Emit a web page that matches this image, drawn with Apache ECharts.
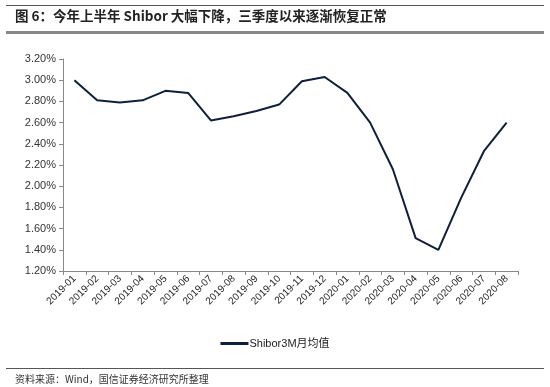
<!DOCTYPE html>
<html><head><meta charset="utf-8">
<script src="https://cdn.jsdelivr.net/npm/echarts@6/dist/echarts.min.js"></script>
<style>html,body{margin:0;padding:0;background:#fff;}#c{width:550px;height:387px;}</style>
</head><body><div id="c"></div>
<script>
const categories = ['2019-01','2019-02','2019-03','2019-04','2019-05','2019-06','2019-07','2019-08','2019-09','2019-10','2019-11','2019-12','2020-01','2020-02','2020-03','2020-04','2020-05','2020-06','2020-07','2020-08'];
const shibor3m = [3.00, 2.81, 2.79, 2.81, 2.90, 2.88, 2.62, 2.66, 2.71, 2.77, 2.99, 3.03, 2.88, 2.60, 2.16, 1.51, 1.40, 1.89, 2.33, 2.60];
const seriesName = 'Shibor3M月均值';
const titleText = '图 6：今年上半年 Shibor 大幅下降，三季度以来逐渐恢复正常';
const sourceText = '资料来源：Wind，国信证券经济研究所整理';

const chart = echarts.init(document.getElementById('c'));
const font = 'Arial, "Liberation Sans", "Noto Sans CJK SC", sans-serif';
chart.setOption({
  animation: false,
  backgroundColor: '#fff',
  grid: {left: 63, right: 32, top: 59, bottom: 116},
  title: [
    {text: titleText, left: 15, top: 9, padding: 0,
     textStyle: {fontSize: 13.5, fontWeight: 'bold', color: '#222', fontFamily: '"Noto Sans CJK SC", sans-serif'}},
    {text: sourceText, left: 15, top: 374, padding: 0,
     textStyle: {fontSize: 10, fontWeight: 'normal', color: '#333', fontFamily: '"Noto Sans CJK SC", sans-serif'}}
  ],
  graphic: {elements: [
    {type: 'rect', left: 6, top: 5, shape: {width: 538, height: 1}, style: {fill: '#555'}},
    {type: 'rect', left: 6, top: 31, shape: {width: 538, height: 3}, style: {fill: '#888'}},
    {type: 'rect', left: 6, top: 368, shape: {width: 538, height: 1}, style: {fill: '#555'}}
  ]},
  legend: {
    data: [seriesName], top: 333, left: 'center',
    itemWidth: 28, itemHeight: 3, itemGap: 10,
    icon: 'rect',
    textStyle: {fontSize: 11, color: '#222', fontFamily: font, padding: [0,0,0,-4]}
  },
  xAxis: {
    type: 'category', data: categories, boundaryGap: true,
    axisLine: {lineStyle: {color: '#888', width: 1}},
    axisTick: {show: true, alignWithLabel: false, length: 4, lineStyle: {color: '#888'}},
    axisLabel: {rotate: 45, fontSize: 10, color: '#222', fontFamily: font, margin: 6, interval: 0}
  },
  yAxis: {
    type: 'value', min: 1.2, max: 3.2, interval: 0.2,
    axisLine: {show: true, lineStyle: {color: '#888', width: 1}},
    axisTick: {show: true, length: 4, lineStyle: {color: '#888'}},
    splitLine: {show: false},
    axisLabel: {formatter: v => v.toFixed(2) + '%', fontSize: 11, color: '#333', fontFamily: font, margin: 7}
  },
  series: [{
    name: seriesName, type: 'line', data: shibor3m,
    symbol: 'none', lineStyle: {color: '#0e1f3d', width: 2},
    itemStyle: {color: '#0e1f3d'}
  }]
});
</script></body></html>
